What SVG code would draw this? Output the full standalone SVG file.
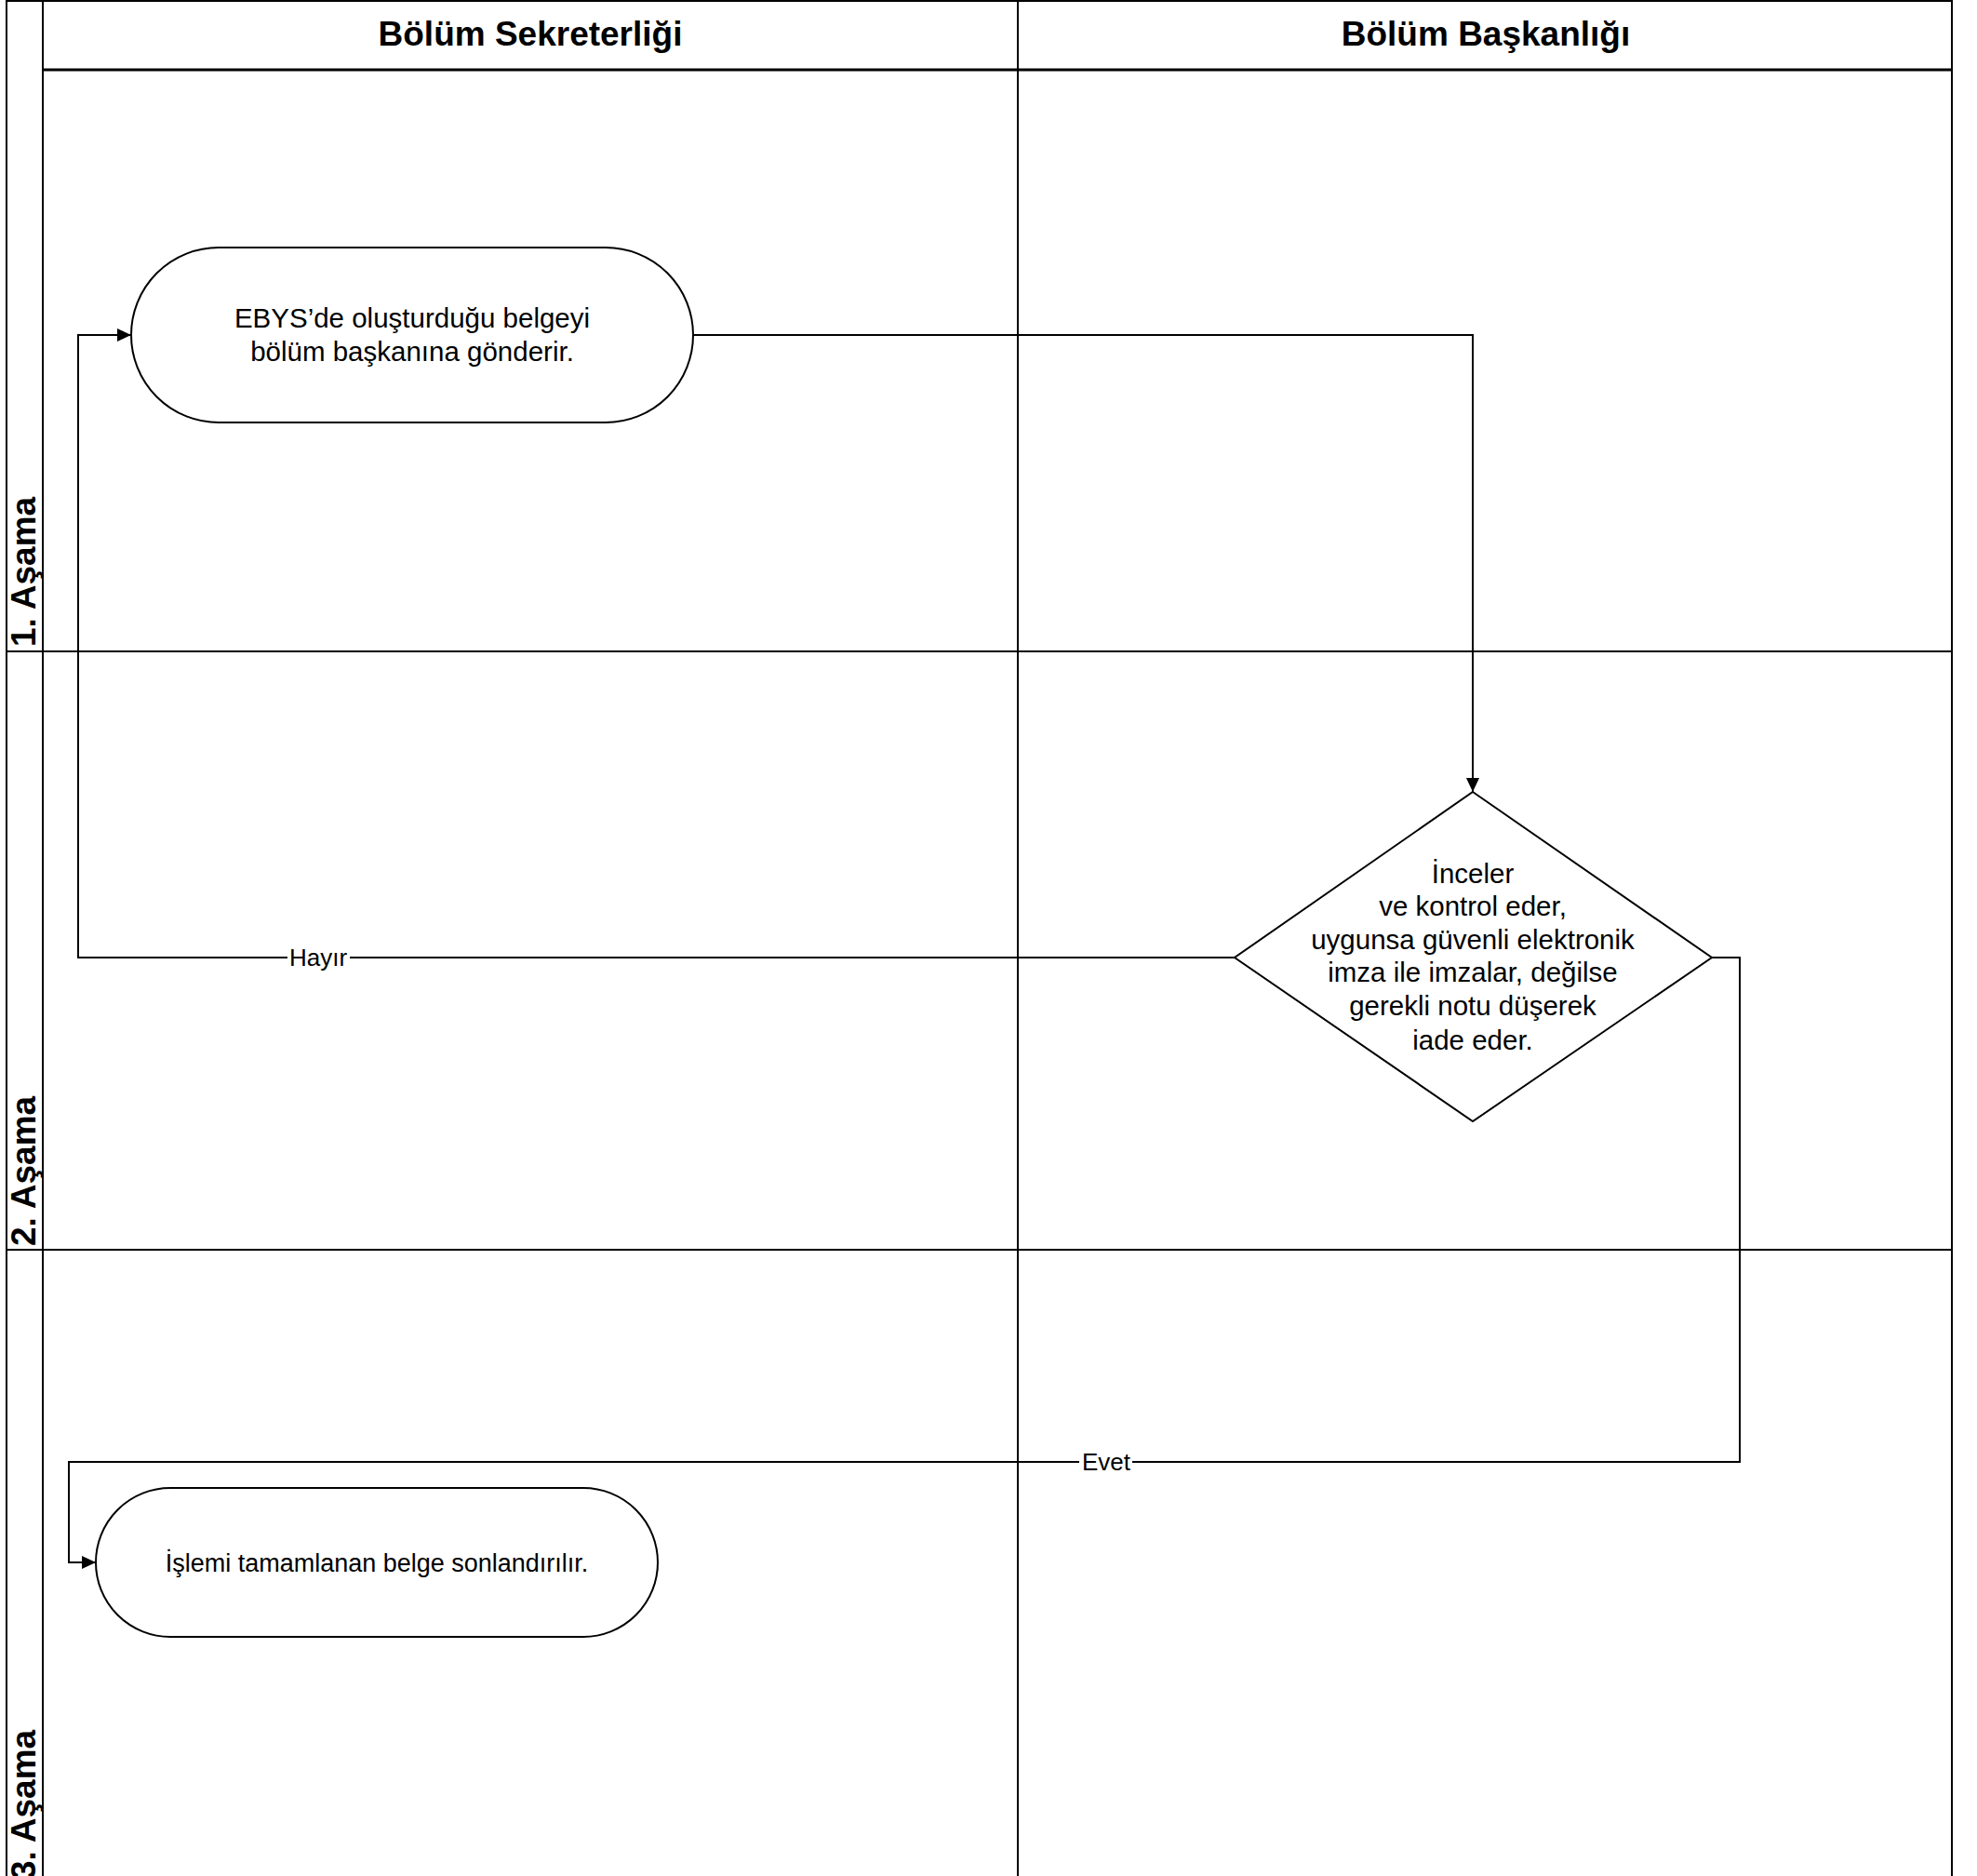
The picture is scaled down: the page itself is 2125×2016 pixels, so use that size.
<svg xmlns="http://www.w3.org/2000/svg" width="2125" height="2016" viewBox="0 0 2125 2016">
<style>
.lane{stroke:#000;stroke-width:2;fill:none}
.hdr{font-family:"Liberation Sans",Arial,sans-serif;font-weight:bold;font-size:37px;fill:#000}
.node{fill:#fff;stroke:#000;stroke-width:2}
.txt{font-family:"Liberation Sans",Arial,sans-serif;font-size:29.5px;fill:#000;text-anchor:middle}
.small{font-size:27px}
.conn{stroke:#000;stroke-width:2;fill:none}
.lbl{font-family:"Liberation Sans",Arial,sans-serif;font-size:26px;fill:#000;text-anchor:middle}
</style>
<defs>
<marker id="arr" markerUnits="userSpaceOnUse" markerWidth="16" markerHeight="14" refX="15" refY="7" orient="auto">
<path d="M0,0 L15,7 L0,14 z" fill="#000"/>
</marker>
</defs>
<rect width="2125" height="2016" fill="#fff"/>
<g id="swimlanes">
<line class="lane" x1="7" y1="0" x2="7" y2="2016"/>
<line class="lane" x1="46" y1="0" x2="46" y2="2016"/>
<line class="lane" x1="1094" y1="0" x2="1094" y2="2016"/>
<line class="lane" x1="2098" y1="0" x2="2098" y2="2016"/>
<line class="lane" x1="7" y1="1" x2="2098" y2="1"/>
<line class="lane" x1="46" y1="75" x2="2098" y2="75" style="stroke-width:3"/>
<line class="lane" x1="7" y1="700" x2="2098" y2="700"/>
<line class="lane" x1="7" y1="1343" x2="2098" y2="1343"/>
<text class="hdr" x="570" y="49" text-anchor="middle">Bölüm Sekreterliği</text>
<text class="hdr" x="1597" y="49" text-anchor="middle">Bölüm Başkanlığı</text>
<text class="hdr" transform="translate(38,695) rotate(-90)">1. Aşama</text>
<text class="hdr" transform="translate(38,1339) rotate(-90)">2. Aşama</text>
<text class="hdr" transform="translate(38,2020) rotate(-90)">3. Aşama</text>
</g>
<g id="connectors">
<path class="conn" d="M745,360 H1583 V851" marker-end="url(#arr)"/>
<path class="conn" d="M1327,1029 H84 V360 H141" marker-end="url(#arr)"/>
<path class="conn" d="M1840,1029 H1870 V1571 H74 V1679 H103" marker-end="url(#arr)"/>
<rect x="309" y="1015" width="67" height="28" fill="#fff"/>
<text class="lbl" x="342" y="1038">Hayır</text>
<rect x="1160" y="1557" width="57" height="28" fill="#fff"/>
<text class="lbl" x="1189" y="1580">Evet</text>
</g>
<g id="node1">
<rect class="node" x="141" y="266" width="604" height="188" rx="94" ry="94"/>
<text class="txt" x="443" y="352">EBYS’de oluşturduğu belgeyi</text>
<text class="txt" x="443" y="388">bölüm başkanına gönderir.</text>
</g>
<g id="node2">
<polygon class="node" points="1583,851 1840,1029 1583,1205 1327,1029"/>
<text class="txt" x="1583" y="949">İnceler</text>
<text class="txt" x="1583" y="984">ve kontrol eder,</text>
<text class="txt" x="1583" y="1020">uygunsa güvenli elektronik</text>
<text class="txt" x="1583" y="1055">imza ile imzalar, değilse</text>
<text class="txt" x="1583" y="1091">gerekli notu düşerek</text>
<text class="txt" x="1583" y="1128">iade eder.</text>
</g>
<g id="node3">
<rect class="node" x="103" y="1599" width="604" height="160" rx="80" ry="80"/>
<text class="txt small" x="405" y="1689">İşlemi tamamlanan belge sonlandırılır.</text>
</g>
</svg>
